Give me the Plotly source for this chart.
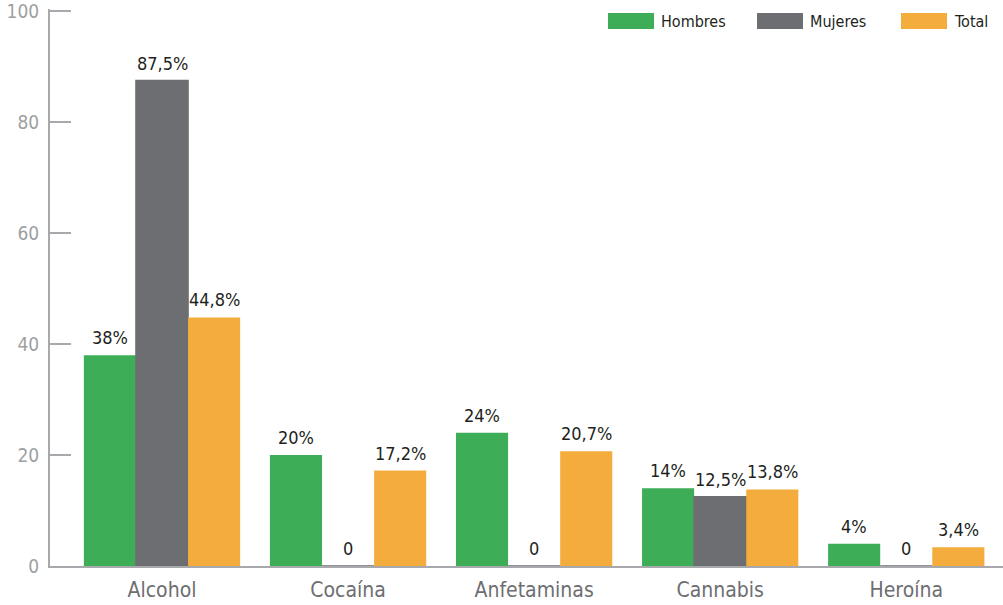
import plotly.graph_objects as go

categories = ["Alcohol", "Cocaína", "Anfetaminas", "Cannabis", "Heroína"]
series_names = ["Hombres", "Mujeres", "Total"]
hombres = [38, 20, 24, 14, 4]
mujeres = [87.5, 0, 0, 12.5, 0]
total = [44.8, 17.2, 20.7, 13.8, 3.4]
hombres_labels = ["38%", "20%", "24%", "14%", "4%"]
mujeres_labels = ["87,5%", "0", "0", "12,5%", "0"]
total_labels = ["44,8%", "17,2%", "20,7%", "13,8%", "3,4%"]
y_ticks = [0, 20, 40, 60, 80, 100]

colors = ["#3dae57", "#6d6e71", "#f4ad3d"]
FONT = "DejaVu Sans Condensed, Liberation Sans, sans-serif"
AXIS_GRAY = "#a7a9ac"

W, H = 1003, 605
ML, MR, MT, MB = 50, 0, 9, 39
PW, PH = W - ML - MR, H - MT - MB
XRANGE = [-0.602, 4.52]
YRANGE = [0, 100.4]
BARGAP = 0.16
bar_px = PW / (XRANGE[1] - XRANGE[0]) * (1 - BARGAP) / 3


def px_x(p):
    return (p - ML) / PW


def px_y(p):
    return (H - MB - p) / PH


fig = go.Figure()
all_vals = [hombres, mujeres, total]
all_labels = [hombres_labels, mujeres_labels, total_labels]
for i, (name, vals, labels, col) in enumerate(zip(series_names, all_vals, all_labels, colors)):
    fig.add_trace(go.Bar(
        x=categories, y=vals, name=name,
        marker=dict(color=col, line=dict(color=col, width=1.5 if name == "Mujeres" else 0)),
        showlegend=False, hoverinfo="skip",
    ))
    for cat, v, lab in zip(categories, vals, labels):
        fig.add_annotation(x=cat, y=v, text=lab, showarrow=False,
                           xanchor="center", yanchor="bottom",
                           xshift=(i - 1) * bar_px, yshift=5,
                           font=dict(family=FONT, size=18, color="#231f20"))

# custom legend with wide swatches (pixel positions of the reference)
legend_sw = [608, 757, 901]
for name, col, sx in zip(series_names, colors, legend_sw):
    fig.add_shape(type="rect", xref="paper", yref="paper",
                  x0=px_x(sx), x1=px_x(sx + 46), y0=px_y(29), y1=px_y(13),
                  fillcolor=col, line=dict(width=0))
    fig.add_annotation(text=name, xref="paper", yref="paper", x=px_x(sx + 51), y=px_y(21),
                       xanchor="left", yanchor="middle", showarrow=False,
                       font=dict(family=FONT, size=16, color="#231f20"))

fig.update_layout(
    width=W, height=H,
    margin=dict(l=ML, r=MR, t=MT, b=MB, autoexpand=False),
    paper_bgcolor="white", plot_bgcolor="white",
    barmode="group", bargap=BARGAP, bargroupgap=0,
    font=dict(family=FONT),
)
fig.update_xaxes(
    range=XRANGE, showline=True, linecolor=AXIS_GRAY, linewidth=2,
    ticks="", showgrid=False, zeroline=False, layer="below traces", automargin=False,
    ticklabelstandoff=4,
    tickfont=dict(family=FONT, size=21, color="#6d6e71"),
)
fig.update_yaxes(
    range=YRANGE, tickvals=y_ticks, showline=True, linecolor=AXIS_GRAY, linewidth=2,
    ticks="inside", ticklen=21, tickwidth=2, tickcolor=AXIS_GRAY,
    showgrid=False, zeroline=False, layer="below traces", ticklabelstandoff=5,
    automargin=False, ticklabeloverflow="allow",
    tickfont=dict(family=FONT, size=19, color="#9d9fa2"),
)

fig.write_html("out.html", config={"displayModeBar": False},
               post_script="document.body.style.margin='0';")
